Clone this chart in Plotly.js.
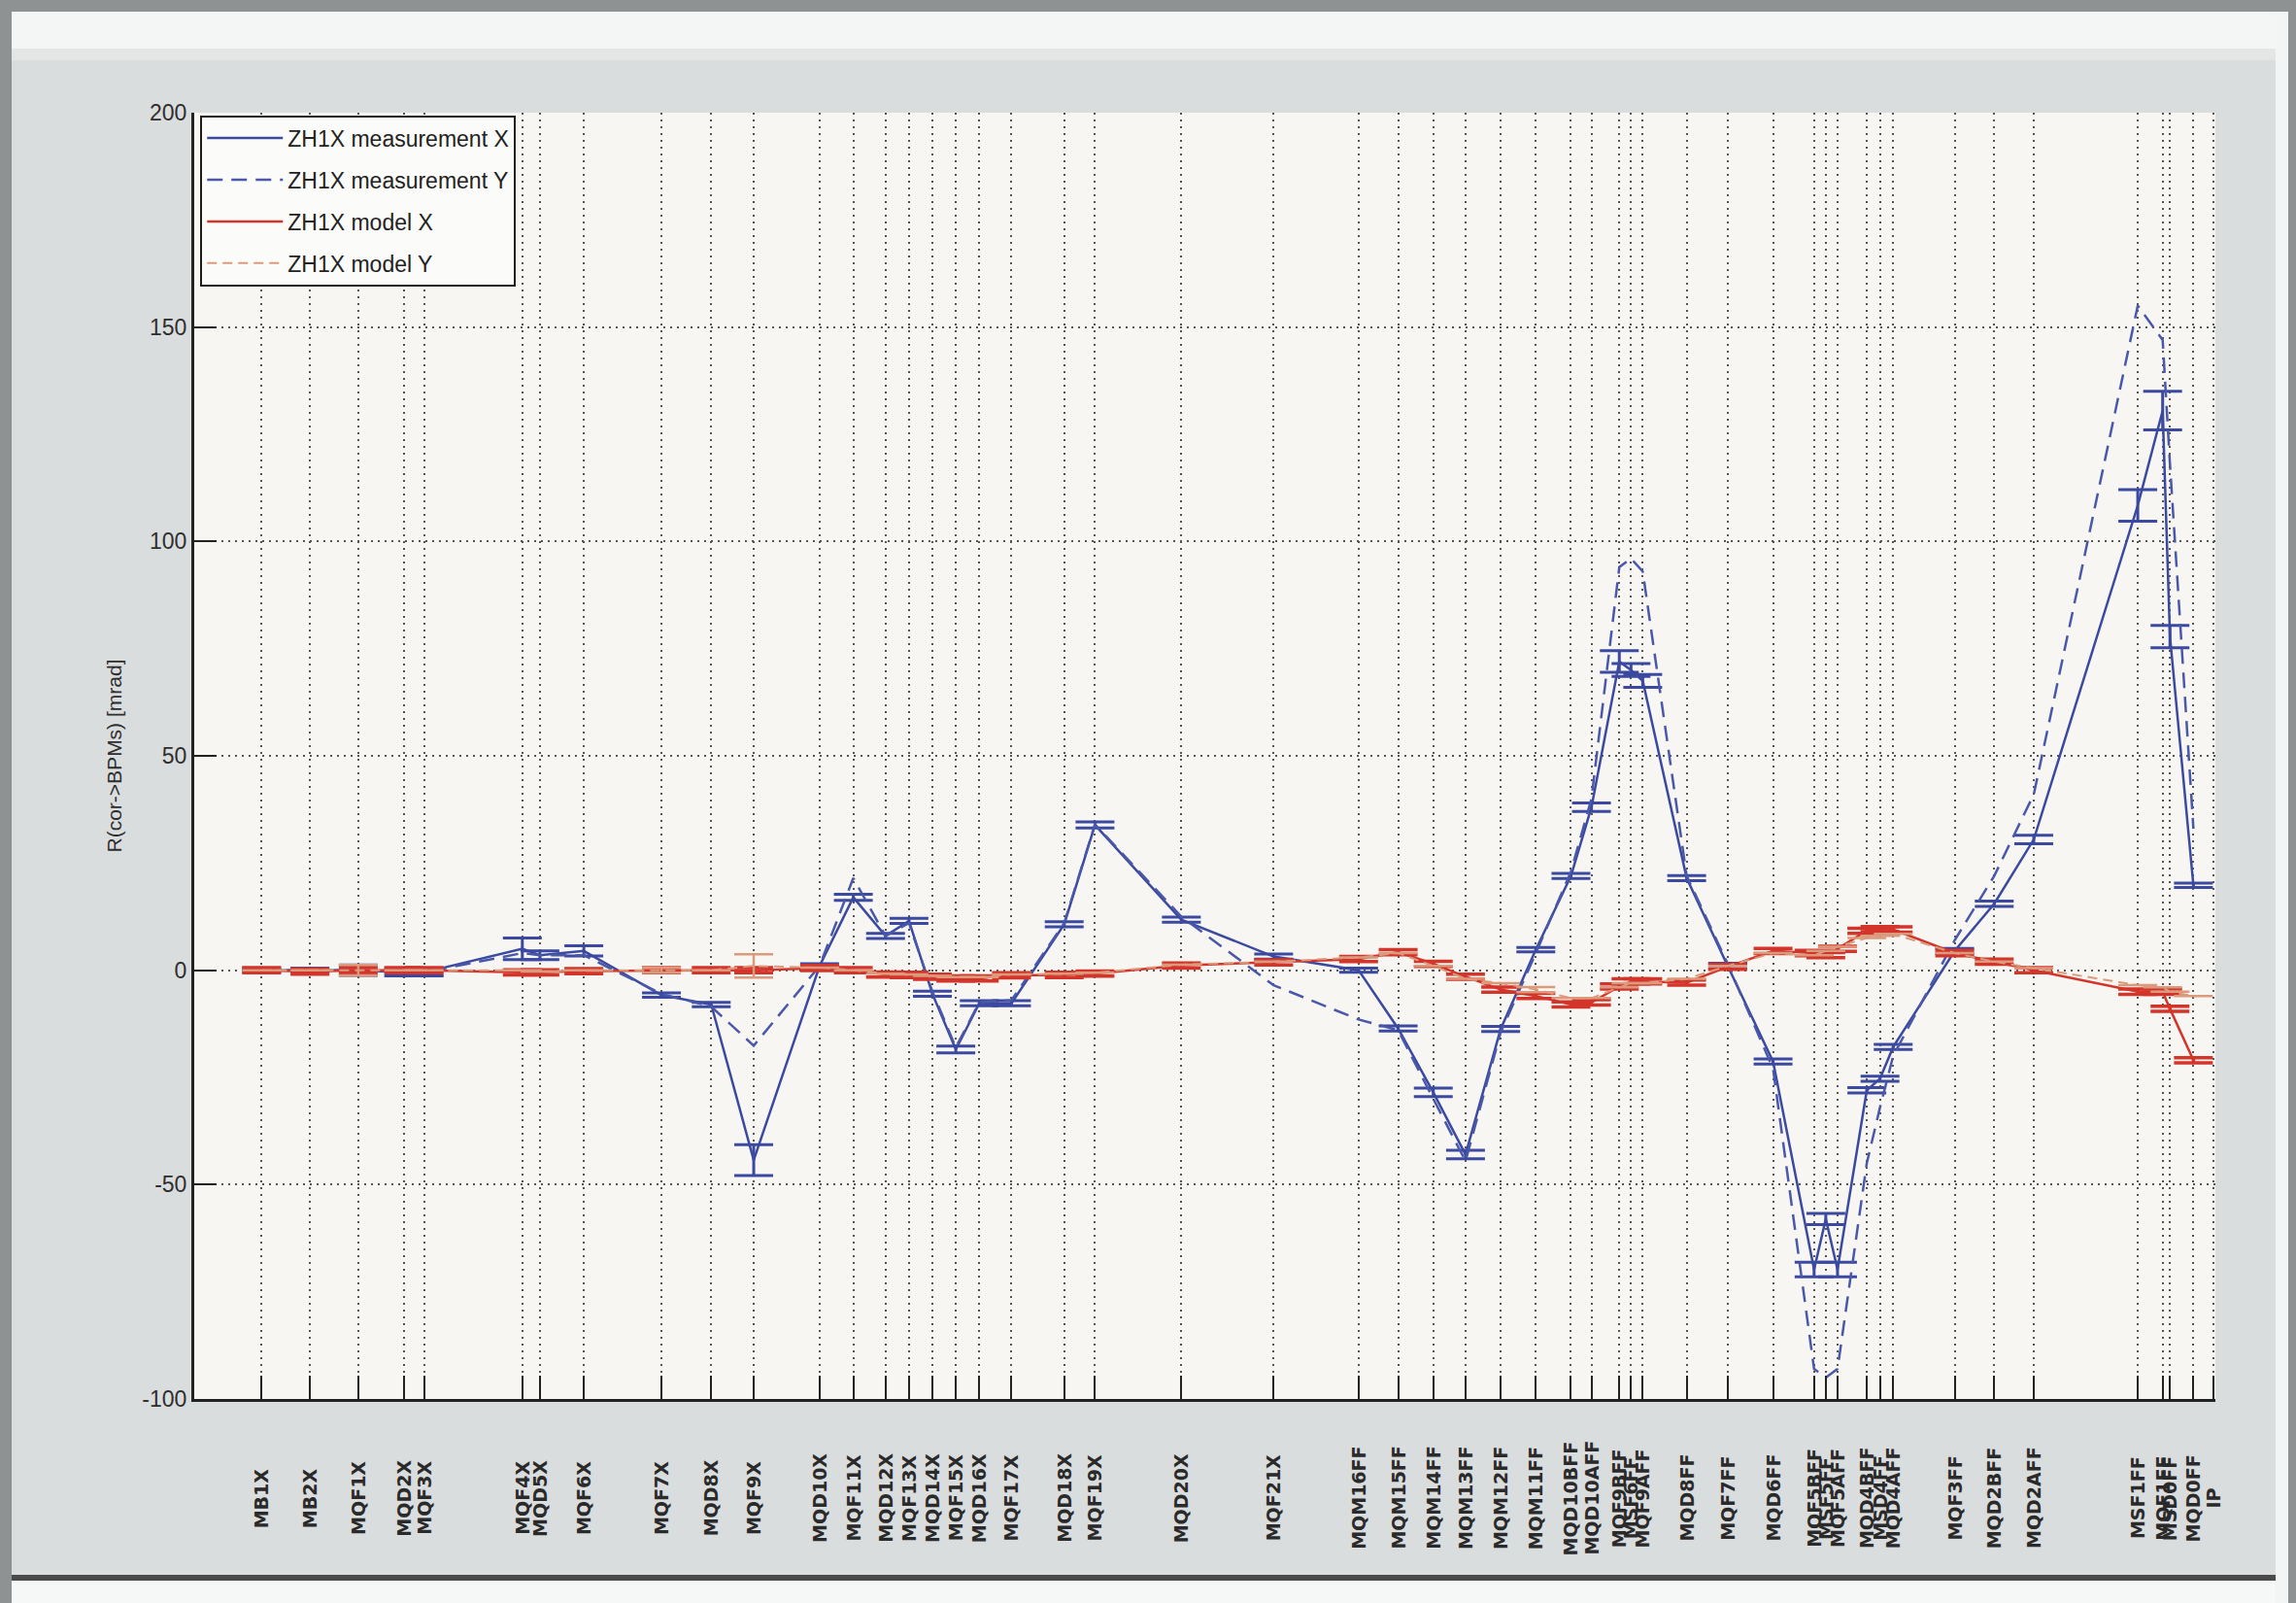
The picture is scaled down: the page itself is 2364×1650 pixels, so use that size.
<!DOCTYPE html>
<html>
<head>
<meta charset="utf-8">
<script src="https://cdn.plot.ly/plotly-3.0.1.min.js"></script>
<style>html,body{margin:0;padding:0;background:#d9dcdc;}#chart{width:2364px;height:1650px;}</style>
</head>
<body>
<div id="chart"></div>
<script>
// Element (BPM / magnet) names along the beamline and their positions (arbitrary s units)
const elements = ['MB1X','MB2X','MQF1X','MQD2X','MQF3X','MQF4X','MQD5X','MQF6X','MQF7X','MQD8X','MQF9X',
  'MQD10X','MQF11X','MQD12X','MQF13X','MQD14X','MQF15X','MQD16X','MQF17X','MQD18X','MQF19X','MQD20X','MQF21X',
  'MQM16FF','MQM15FF','MQM14FF','MQM13FF','MQM12FF','MQM11FF','MQD10BFF','MQD10AFF','MQF9BFF','MSF6FF','MQF9AFF',
  'MQD8FF','MQF7FF','MQD6FF','MQF5BFF','MSF5FF','MQF5AFF','MQD4BFF','MSD4FF','MQD4AFF','MQF3FF','MQD2BFF','MQD2AFF',
  'MSF1FF','MQF1FF','MSD0FF','MQD0FF','IP'];
const sPos = [179,212,245,276,290,357,369,399,452,486,515,
  560,583,605,621,637,653,669,691,727,748,807,870,
  928,955,979,1001,1025,1049,1073,1087,1106,1114,1122,
  1152,1180,1211,1239,1247,1255,1275,1284,1293,1335,1362,1389,
  1460,1477,1482,1498,1512];

// ZH1X measurement X
const measX = [0,0,0,-0.5,-0.5,5,3.5,4.5,-5.8,-8,-44.3,
  1,17,8,11.5,-5.5,-18.5,-7.7,-7.7,10.7,33.9,11.8,3.2,
  0,-13.6,-28.5,-43,-13.7,4.8,22,38,72,70,67.5,
  21.5,1,-21.3,-69.8,-58,-69.8,-28,-25.3,-17.9,4.5,15.5,30.5,
  108.4,130.5,77.8,19.8,null];
const measXErr = [0.5,0.5,1.2,0.8,0.8,2.5,1,1.2,0.5,0.5,3.6,
  0.5,0.7,0.6,0.6,0.6,0.8,0.6,0.6,0.6,0.7,0.6,0.6,
  0.5,0.6,1,1,0.6,0.5,0.6,1,2.5,1.5,1.5,
  0.6,0.6,0.6,1.7,1.3,1.7,0.6,0.6,0.6,0.6,0.6,1,
  3.7,4.5,2.6,0.5,null];
// ZH1X measurement Y
const measY = [0,0,0,-0.5,-0.5,4,3.5,3.5,-5.5,-8.5,-17.6,
  1,21.5,8,11,-5,-18,-7.5,-7,11,34,12.5,-3.5,
  -11.5,-14,-30,-44.5,-14.5,4,23,40,94,96,93,
  22,1.5,-23,-93,-95,-93,-45,-32,-20,7,22,41,
  155,147,118,33,null];
// ZH1X model X
const modelX = [0,-0.3,0,0,0,-0.5,-0.5,-0.2,0,0,0,
  0.5,0,-1,-1.1,-1.5,-1.9,-1.9,-1.2,-1.1,-0.8,1.1,1.8,
  2.6,4.2,1.5,-1.5,-4.5,-6,-8,-7.5,-3.8,-2.6,-2.6,
  -2.9,0.8,4.5,4,3.5,5,9.2,9.6,9.5,4,2,0,
  -5,-5,-9,-21,null];
const modelXErr = [0.6,0.6,0.6,0.6,0.6,0.6,0.6,0.6,0.6,0.6,0.6,
  0.6,0.6,0.6,0.6,0.6,0.6,0.6,0.6,0.6,0.6,0.6,0.6,
  0.6,0.6,0.6,0.6,0.6,0.6,0.6,0.6,0.6,0.6,0.6,
  0.6,0.6,0.6,0.6,0.6,0.6,0.6,0.6,0.6,0.6,0.6,0.6,
  0.6,0.6,0.6,0.6,null];
// ZH1X model Y
const modelY = [0,0,0,0,0,0,-0.3,0,0,0,1,
  0.6,0,-0.8,-1,-1.3,-1.6,-1.6,-1,-0.8,-0.6,1.3,2,
  3,4,1,-2,-3,-4.5,-6.5,-6.5,-4,-3,-3,
  -2,1,4,3.5,4.5,5.5,7.5,8,8.5,4,2,0.5,
  -3.5,-4,-5,-6,null];
const modelYErr = [null,null,1.2,null,null,null,null,null,0.6,null,2.7,
  null,null,null,null,null,null,null,null,null,null,null,null,
  null,null,null,null,null,0.6,null,null,null,null,null,
  null,null,null,null,null,null,null,null,null,null,null,null,
  null,null,null,null,null];

const yTicks = [-100,-50,0,50,100,150,200];
const seriesNames = ['ZH1X measurement X','ZH1X measurement Y','ZH1X model X','ZH1X model Y'];

const BLUE = '#3b4aa0', BLUE2 = '#4a58aa', RED = '#d3352b', ORANGE = '#dc9a7c';

const traces = [
  {x: sPos, y: measX, name: seriesNames[0], legendgroup:'a', type:'scatter', mode:'lines',
   line:{color:BLUE, width:2.5},
   error_y:{type:'data', array:measXErr, visible:true, color:BLUE, thickness:3, width:20}},
  {x: sPos, y: measY, name: seriesNames[1], legendgroup:'b', type:'scatter', mode:'lines',
   line:{color:BLUE2, width:2.5, dash:'16px,9px'}},
  {x: sPos, y: modelX, name: seriesNames[2], legendgroup:'c', type:'scatter', mode:'lines',
   line:{color:RED, width:2.5},
   error_y:{type:'data', array:modelXErr, visible:true, color:RED, thickness:3.5, width:20}},
  {x: sPos, y: modelY, name: seriesNames[3], legendgroup:'d', type:'scatter', mode:'lines',
   line:{color:ORANGE, width:2, dash:'10px,6px'},
   error_y:{type:'data', array:modelYErr, visible:true, color:ORANGE, thickness:2.5, width:20}}
];

// page geometry helpers (pixel -> paper fraction)
const L = 200, R = 2281, T = 116, B = 1440;
const px = v => (v - L) / (R - L);
const py = v => (B - v) / (B - T);

function rect(x0, y0, x1, y1, color) {
  return {type:'rect', xref:'paper', yref:'paper', layer:'below',
          x0:px(x0), x1:px(x1), y0:py(y0), y1:py(y1),
          fillcolor:color, line:{width:0}};
}
const shapes = [
  rect(0, 0, 2364, 12, '#8f9292'),
  rect(0, 0, 12, 1650, '#8f9292'),
  rect(12, 12, 2364, 50, '#f4f5f5'),
  rect(12, 50, 2343, 62, '#e4e6e6'),
  rect(12, 1621, 2343, 1627, '#4a4a4a'),
  rect(12, 1627, 2364, 1650, '#f6f7f7'),
  rect(2343, 12, 2356, 1650, '#f3f5f5'),
  rect(2356, 0, 2364, 1650, '#8f9292')
];

const labelY = py(1542);
const annotations = elements.map((name, i) => ({
  x: sPos[i], y: labelY, xref:'x', yref:'paper', text: name, showarrow:false,
  textangle:-90, xanchor:'center', yanchor:'middle',
  font:{family:'DejaVu Sans, Arial, sans-serif', size:19, color:'#2a2a2a', weight:'bold'}
}));

const gridDash = '2px,5px';
const layout = {
  width:2364, height:1650, autosize:false,
  margin:{l:L, r:2364-R, t:T, b:1650-B, pad:0},
  paper_bgcolor:'#dadddd', plot_bgcolor:'#f7f6f2',
  font:{family:'Liberation Sans, Arial, sans-serif', color:'#2a2a2a'},
  showlegend:true,
  legend:{x:0.003, y:0.998, xanchor:'left', yanchor:'top',
    bgcolor:'#fbfbf9', bordercolor:'#1e1e1e', borderwidth:2,
    font:{family:'Liberation Sans, Arial, sans-serif', size:23, color:'#222'},
    tracegroupgap:10, itemwidth:78, traceorder:'grouped'},
  xaxis:{range:[133,1513], tickvals:sPos, showticklabels:false,
    ticks:'inside', ticklen:24, tickwidth:2, tickcolor:'#222',
    showgrid:true, gridcolor:'#555555', gridwidth:2, griddash:gridDash,
    zeroline:false, showline:true, linecolor:'#222', linewidth:3, mirror:false},
  yaxis:{range:[-100,200], tickvals:yTicks, ticktext:yTicks.map(String),
    ticks:'inside', ticklen:23, tickwidth:2, tickcolor:'#222',
    tickfont:{family:'Liberation Sans, Arial, sans-serif', size:23, color:'#2e2e2e'},
    showgrid:true, gridcolor:'#555555', gridwidth:2, griddash:gridDash,
    zeroline:false, showline:true, linecolor:'#222', linewidth:3, mirror:false,
    title:{text:'R(cor->BPMs) [mrad]', standoff:16,
      font:{family:'Liberation Sans, Arial, sans-serif', size:21, color:'#2e2e2e'}}},
  shapes: shapes,
  annotations: annotations
};

Plotly.newPlot('chart', traces, layout, {displayModeBar:false, staticPlot:true});
</script>
</body>
</html>
